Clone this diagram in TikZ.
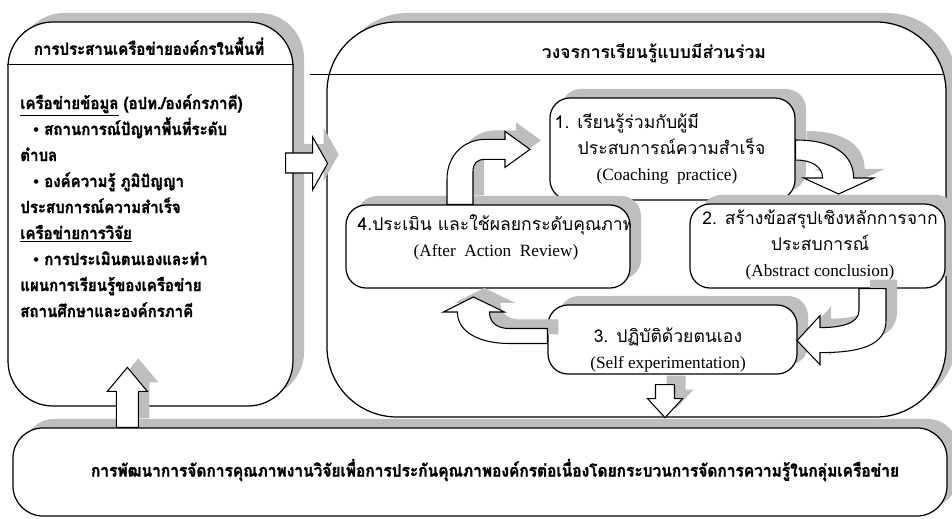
\documentclass[tikz,border=0pt]{standalone}
\usepackage{fontspec}
\setmainfont{Liberation Serif}
\newfontfamily\thai[Script=Thai]{Loma}
\newfontfamily\thaicond[Script=Thai, FakeStretch=0.9, BoldFeatures={FakeBold=1.5}]{Loma}
\definecolor{shade}{RGB}{190,190,190}
\usetikzlibrary{calc, positioning, shadows}
\tikzset{%
  panel/.style={draw, line width=0.7pt, fill=white, inner sep=0pt,
    rounded corners=#1,
    general shadow={fill=shade, shadow xshift=2.2mm, shadow yshift=1.8mm}},% box with grey shadow
  stepbox/.style={panel=4mm},% one step of the learning cycle
  hollow/.style={draw, line width=0.6pt, fill=white, line join=miter,
    general shadow={fill=shade, shadow xshift=2.2mm, shadow yshift=1.8mm}},% block arrow
  thaitxt/.style={font=\thai\fontsize{10}{14.8}\selectfont, inner sep=0pt},
  thaibold/.style={font=\thaicond\bfseries\fontsize{9.5}{14.8}\selectfont, inner sep=0pt}
}
\newcommand*{\bulletmark}{{\normalfont\bfseries\textbullet}~}
\newcommand*{\engfont}{\normalfont\fontsize{9.8}{11}\selectfont}

\begin{document}
\begin{tikzpicture}[x=0.2mm, y=-0.2mm]
\useasboundingbox (0,0) rectangle (952,519);

% the three big panels
\node[panel=9mm, minimum width=57mm, minimum height=76.8mm] (netbox) at (150.5, 214) {};
\node[panel=14mm, minimum width=123.8mm, minimum height=79mm] (loopbox) at (636.5, 219.5) {};
\node[panel=6mm, minimum width=186.8mm, minimum height=17.6mm] (goalbox) at (480, 472) {};

\draw[line width=0.6pt] ($(netbox.north west)+(0,43)$) -- ($(netbox.north east)+(0,43)$);
\draw[line width=0.6pt] ($(loopbox.north west)+(-16,53)$) -- ($(loopbox.north east)+(-4,53)$);

\node[thaibold] (nethead) at (149, 46) {การประสานเครือข่ายองค์กรในพื้นที่};
\node[inner sep=0pt, font=\thai\bfseries\fontsize{10}{14}\selectfont] (loophead) at (654, 53) {วงจรการเรียนรู้แบบมีส่วนร่วม};

\node[thaibold, align=left, anchor=north west] (nettext) at (20, 94) {%
\underline{เครือข่ายข้อมูล} (อปท./องค์กรภาคี)\\
\hspace*{2.6mm}\bulletmark สถานการณ์ปัญหาพื้นที่ระดับ\\
ตำบล\\
\hspace*{2.6mm}\bulletmark องค์ความรู้ ภูมิปัญญา\\
ประสบการณ์ความสำเร็จ\\
\underline{เครือข่ายการวิจัย}\\
\hspace*{2.6mm}\bulletmark การประเมินตนเองและทำ\\
แผนการเรียนรู้ของเครือข่าย\\
สถานศึกษาและองค์กรภาคี};

\node[thaibold, font=\thaicond\bfseries\fontsize{9.8}{14}\selectfont] (goaltext) at (495, 470) {การพัฒนาการจัดการคุณภาพงานวิจัยเพื่อการประกันคุณภาพองค์กรต่อเนื่องโดยกระบวนการจัดการความรู้ในกลุ่มเครือข่าย};

% the four steps
\node[stepbox, minimum width=49mm, minimum height=20.4mm] (b1) at (672.5, 149) {};
\node[stepbox, minimum width=56.8mm, minimum height=16.6mm] (b4) at (488, 246.5) {};
\node[stepbox, minimum width=51mm, minimum height=16.8mm] (b2) at (817.5, 246) {};
\node[stepbox, minimum width=49.8mm, minimum height=13.8mm] (b3) at (672.5, 339.5) {};

\node[thaitxt, align=left, right=1mm of b1.west] (t1) {%
1. เรียนรู้ร่วมกับผู้มี\\ \hspace*{4.6mm}ประสบการณ์ความสำเร็จ\\ \hspace*{8.4mm}{\engfont (Coaching\ \ practice)}};
\begin{scope}
  \clip[rounded corners=4mm] (b4.south west) rectangle (b4.north east);
  \node[thaitxt, align=center] (t4) at (496, 237) {%
  4.ประเมิน และใช้ผลยกระดับคุณภาพ\\ {\engfont (After\ \ Action\ \ Review)}};
\end{scope}
\node[thaitxt, align=center] (t2) at (820, 245) {%
2. สร้างข้อสรุปเชิงหลักการจาก\\ ประสบการณ์\\ {\engfont (Abstract conclusion)}};
\node[thaitxt, align=center] (t3) at (668, 350) {%
3. ปฏิบัติด้วยตนเอง\\ {\engfont (Self experimentation)}};

% block arrows
\draw[hollow] ($(netbox.east)+(-8,-61)$) -- ++(27,0) -- ++(0,-16) -- ++(15,26.5)
  -- ++(-15,26.5) -- ++(0,-17) -- ++(-27,0) -- cycle;
\draw[hollow] ($(goalbox.north west)+(104,0)$) -- ++(0,-36) -- ++(-9,0) -- ++(20,-24)
  -- ++(20,24) -- ++(-9,0) -- ++(0,36) -- cycle;
\draw[hollow] ($(b3.south)+(-17,10)$) -- ++(0,14) -- ++(-8,0) -- ++(17.5,19)
  -- ++(17.5,-19) -- ++(-8,0) -- ++(0,-14) -- cycle;

% b4 -> b1
\draw[hollow] ($(b4.north)+(-41,0)$) -- ++(0,-25)
  .. controls +(0,-25) and +(-20,0) .. ++(38,-40) -- ++(20,0) -- ++(0,-8)
  -- ++(25,18) -- ++(-25,18) -- ++(0,-8) -- ++(-20,0)
  .. controls +(-8,0) and +(0,-8) .. ++(-12,12) -- ++(0,33) -- cycle;
% b1 -> b2
\draw[hollow] ($(b1.east)+(0,-9)$)
  .. controls +(40,0) and +(0,-22) .. ++(58,38) -- ++(20,0) -- ++(-35,16)
  -- ++(-35,-16) -- ++(19,0)
  .. controls +(0,-12) and +(15,0) .. ++(-27,-18) -- cycle;
% b2 -> b3
\draw[hollow] ($(b2.south)+(41.5,0)$) -- ++(0,22)
  .. controls +(0,14) and +(18,0) .. ++(-39,17) -- ++(0,-12) -- ++(-23,25)
  -- ++(23,24) -- ++(0,-12)
  .. controls +(40,0) and +(0,25) .. ++(66,-32) -- ++(0,-32) -- cycle;
% b3 -> b4
\draw[hollow] ($(b3.west)+(0,-11)$) -- ++(-38,0)
  .. controls +(-15,0) and +(0,8) .. ++(-20,-16.5) -- ++(15,0) -- ++(-31,-15)
  -- ++(-30,15) -- ++(14,0)
  .. controls +(0,20) and +(-30,0) .. ++(52,31.5) -- ++(38,0) -- cycle;

\end{tikzpicture}
\end{document}
